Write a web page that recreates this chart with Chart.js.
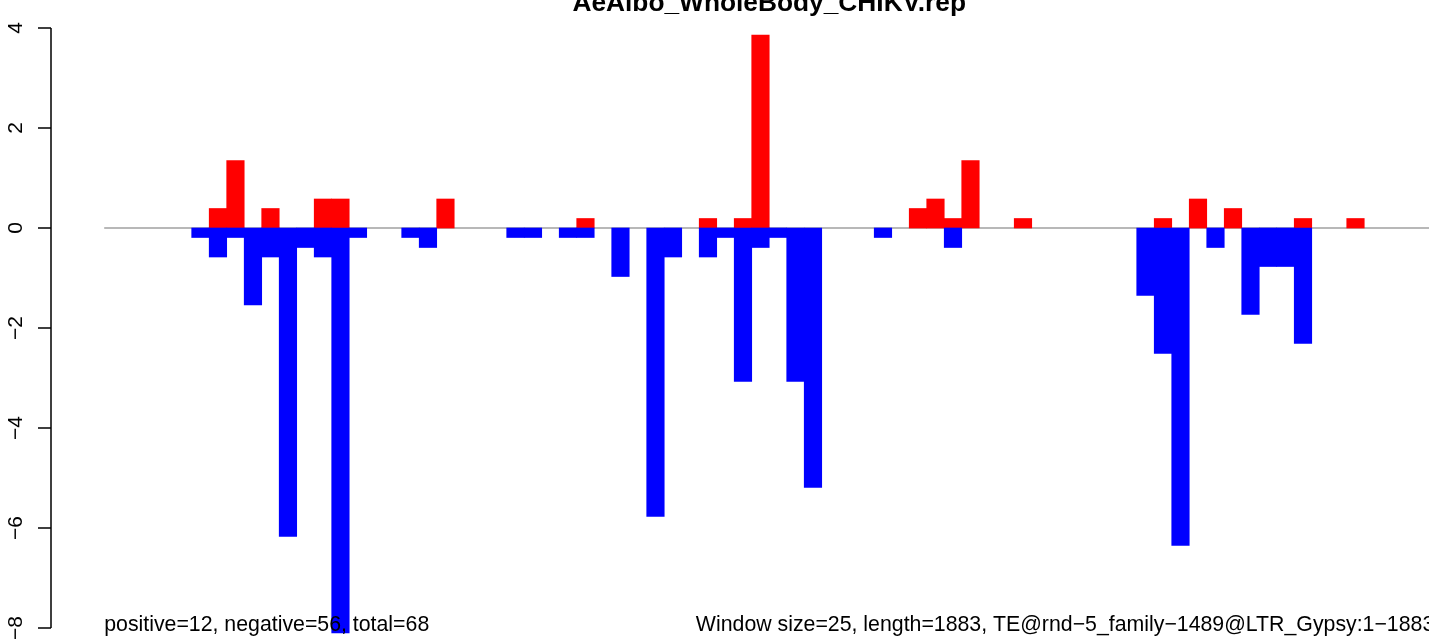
<!DOCTYPE html>
<html>
<head>
<meta charset="utf-8">
<script src="https://cdn.jsdelivr.net/npm/chart.js@4/dist/chart.umd.min.js"></script>
<style>
  html, body { margin: 0; padding: 0; background: #fff; }
  #wrap { width: 1429px; height: 641px; position: relative; }
</style>
</head>
<body>
<div id="wrap"><canvas id="c"></canvas></div>
<script>
// ---- data (one value per 25-bp window, 76 windows) ----
const positiveValues = [
  0, 0, 0, 0, 0, 0, 0.39, 1.35, 0, 0.39,
  0, 0, 0.58, 0.58, 0, 0, 0, 0, 0, 0.58,
  0, 0, 0, 0, 0, 0, 0, 0.19, 0, 0,
  0, 0, 0, 0, 0.19, 0, 0.19, 3.86, 0, 0,
  0, 0, 0, 0, 0, 0, 0.39, 0.58, 0.19, 1.35,
  0, 0, 0.19, 0, 0, 0, 0, 0, 0, 0,
  0.19, 0, 0.58, 0, 0.39, 0, 0, 0, 0.19, 0,
  0, 0.19, 0, 0, 0, 0
];
const negativeValues = [
  0, 0, 0, 0, 0, -0.19, -0.58, -0.19, -1.54, -0.58,
  -6.17, -0.39, -0.58, -8.1, -0.19, 0, 0, -0.19, -0.39, 0,
  0, 0, 0, -0.19, -0.19, 0, -0.19, -0.19, 0, -0.97,
  0, -5.77, -0.58, 0, -0.58, -0.19, -3.07, -0.39, -0.19, -3.07,
  -5.19, 0, 0, 0, -0.19, 0, 0, 0, -0.39, 0,
  0, 0, 0, 0, 0, 0, 0, 0, 0, -1.35,
  -2.51, -6.35, 0, -0.39, 0, -1.73, -0.77, -0.77, -2.31, 0,
  0, 0, 0, 0, 0, 0
];
const yTickValues = [-8, -6, -4, -2, 0, 2, 4];
const titleText = "AeAlbo_WholeBody_CHIKV.rep";
const leftNote = "positive=12, negative=56, total=68";
const rightNote = "Window size=25, length=1883, TE@rnd\u22125_family\u22121489@LTR_Gypsy:1\u22121883";
const windowCount = positiveValues.length;

// ---- build points through the linear x scale ----
const toPoints = arr => arr.map((v, i) => ({ x: i + 0.5, y: v === 0 ? null : v }));

const FONT = '"Liberation Sans", Arial, Helvetica, sans-serif';

const rDecor = {
  id: 'rDecor',
  afterDraw(chart) {
    const { ctx } = chart;
    const xs = chart.scales.x, ys = chart.scales.y;
    const axX = chart.chartArea.left;
    ctx.save();
    // y axis line and ticks
    ctx.strokeStyle = '#000';
    ctx.lineWidth = 1.5;
    const tTop = ys.getPixelForValue(yTickValues[yTickValues.length - 1]);
    const tBot = ys.getPixelForValue(yTickValues[0]);
    ctx.beginPath();
    ctx.moveTo(axX, tTop); ctx.lineTo(axX, tBot);
    ys.ticks.forEach(t => {
      const py = ys.getPixelForValue(t.value);
      ctx.moveTo(axX - 13, py); ctx.lineTo(axX, py);
    });
    ctx.stroke();
    // y tick labels, rotated (reading upward)
    ctx.fillStyle = '#000';
    ctx.font = '21px ' + FONT;
    ctx.textAlign = 'center';
    ctx.textBaseline = 'alphabetic';
    ys.ticks.forEach(t => {
      const py = ys.getPixelForValue(t.value);
      const lbl = t.value < 0 ? '\u2212' + Math.abs(t.value) : String(t.value);
      ctx.save();
      ctx.translate(22, py);
      ctx.rotate(-Math.PI / 2);
      ctx.fillText(lbl, 0, 0);
      ctx.restore();
    });
    // title centred over the plot region
    ctx.font = 'bold 26.3px ' + FONT;
    ctx.textAlign = 'center';
    ctx.fillText(titleText, xs.getPixelForValue(38), 11);
    // notes at the bottom
    ctx.font = '21.3px ' + FONT;
    ctx.textAlign = 'left';
    ctx.fillText(leftNote, xs.getPixelForValue(0), 631);
    ctx.textAlign = 'right';
    ctx.fillText(rightNote, xs.getPixelForValue(windowCount), 631);
    ctx.restore();
  }
};

new Chart(document.getElementById('c'), {
  type: 'bar',
  data: {
    datasets: [
      {
        type: 'line',
        data: [{ x: 0, y: 0 }, { x: 75.7, y: 0 }],
        borderColor: '#a0a0a0',
        borderWidth: 1.6,
        pointRadius: 0,
        order: 3
      },
      {
        data: toPoints(positiveValues),
        backgroundColor: '#ff0000',
        borderWidth: 0,
        grouped: false,
        categoryPercentage: 1,
        barPercentage: 1,
        order: 2
      },
      {
        data: toPoints(negativeValues),
        backgroundColor: '#0000ff',
        borderWidth: 0,
        grouped: false,
        categoryPercentage: 1,
        barPercentage: 1,
        order: 1
      }
    ]
  },
  options: {
    responsive: true,
    maintainAspectRatio: false,
    animation: false,
    layout: { padding: { left: 51, top: 4, right: 0, bottom: 0 } },
    plugins: { legend: { display: false }, tooltip: { enabled: false }, title: { display: false } },
    scales: {
      x: {
        type: 'linear',
        display: false,
        offset: false,
        bounds: 'data',
        min: -3.04,
        max: 75.7,
        ticks: { stepSize: 10 }
      },
      y: {
        type: 'linear',
        display: false,
        min: -8.26,
        max: 4.48,
        afterBuildTicks: s => { s.ticks = yTickValues.map(v => ({ value: v })); }
      }
    }
  },
  plugins: [rDecor]
});
</script>
</body>
</html>
